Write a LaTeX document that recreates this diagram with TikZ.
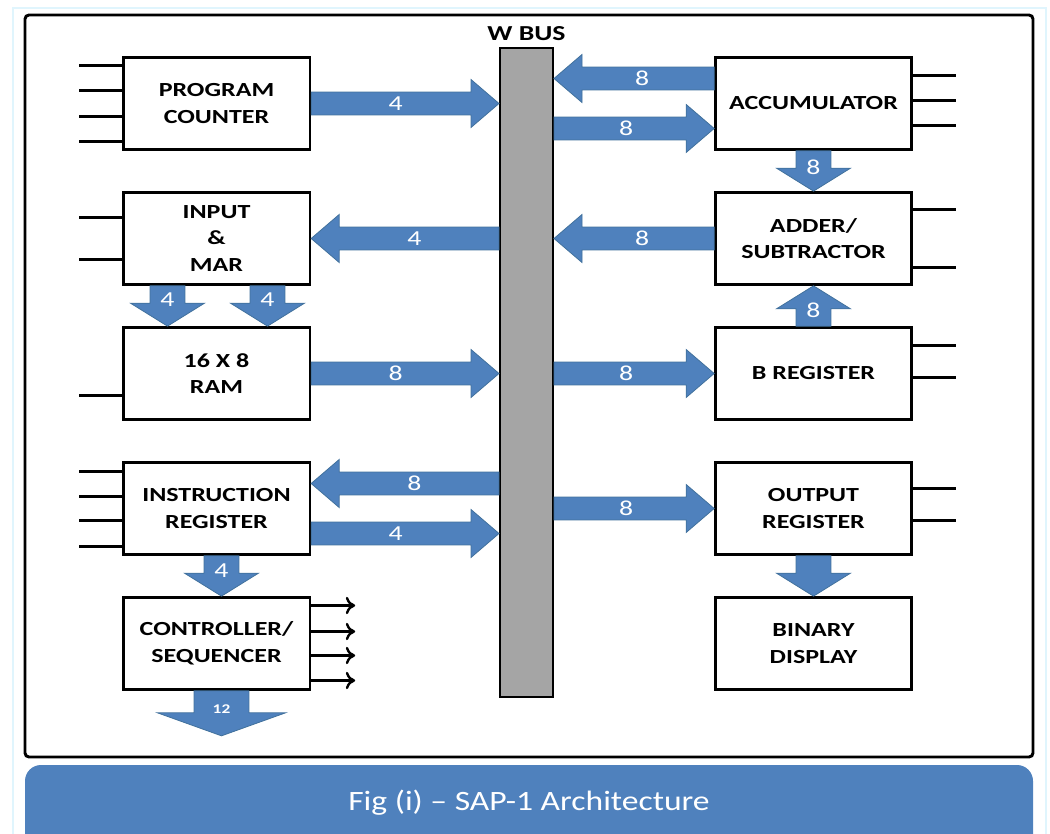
\documentclass[tikz,border=0pt]{standalone}
\usepackage{fontspec}
\newfontfamily\boxfont{Carlito}[FakeStretch=1.3]
\newfontfamily\capfont{Carlito}[FakeStretch=1.2]
\usetikzlibrary{arrows.meta,calc,positioning}

\definecolor{busblue}{HTML}{4F81BD}
\definecolor{busedge}{HTML}{41719C}
\definecolor{busgray}{HTML}{A5A5A5}

\tikzset{
  blk/.style={draw, line width=2pt, minimum width=140pt, minimum height=69pt,
              align=center, font=\boxfont\bfseries\fontsize{15}{20}\selectfont},
  rblk/.style={blk, minimum width=147pt},
  ctl/.style={line width=2.3pt},
  fatarrow/.style={fill=busblue, draw=busedge, line width=0.6pt},
  num/.style={text=white, font=\boxfont\fontsize{16}{16}\selectfont, inner sep=0pt},
}

% fat bus arrow: [label pos]{from}{to}{shaft half}{head half}{head length}{label}
\newcommand{\fat}[7][0.45]{%
  \coordinate (hb) at ($(#3)!#6!(#2)$);
  \filldraw[fatarrow] ($(#2)!#4!90:(#3)$) -- ($(hb)!#4!90:(#3)$)
    -- ($(hb)!#5!90:(#3)$) -- (#3) -- ($(hb)!#5!-90:(#3)$)
    -- ($(hb)!#4!-90:(#3)$) -- ($(#2)!#4!-90:(#3)$) -- cycle;
  \node[num] at ($(#2)!#1!(#3)$) {#7};
}

\begin{document}
\begin{tikzpicture}[x=0.75pt, y=-0.75pt, node distance=30.25pt,
                    >={To[length=7pt,width=13pt]}]
  \useasboundingbox (0,0) rectangle (1050,834);
  \draw[cyan!12, line width=1.5pt] (13,8) rectangle (1046,850);
  \draw[line width=2.2pt, rounded corners=3] (25,15) rectangle (1033,757);

  % W bus
  \node[draw, line width=1.5pt, fill=busgray, minimum width=39.75pt,
        minimum height=486.75pt] (bus) at (526.5,372.5) {};
  \node[font=\boxfont\bfseries\fontsize{16}{18}\selectfont, above=1pt of bus] (wbus) {W BUS};

  % left column
  \node[blk] (pc) at (216.5,103.5) {PROGRAM\\COUNTER};
  \node[blk, below=of pc]   (mar)  {INPUT\\\&\\MAR};
  \node[blk, below=of mar]  (ram)  {16 X 8\\RAM};
  \node[blk, below=of ram]  (ir)   {INSTRUCTION\\REGISTER};
  \node[blk, below=of ir]   (ctrl) {CONTROLLER/\\SEQUENCER};

  % right column
  \node[rblk] (acc) at (813.5,103.5) {ACCUMULATOR};
  \node[rblk, below=of acc]  (add)  {ADDER/\\SUBTRACTOR};
  \node[rblk, below=of add]  (breg) {B REGISTER};
  \node[rblk, below=of breg] (out)  {OUTPUT\\REGISTER};
  \node[rblk, below=of out]  (disp) {BINARY\\DISPLAY};

  % control lines
  \foreach \d in {-38,-13,13,38} \draw[ctl] ($(pc.west)+(0,\d)$) -- ++(-43,0);
  \foreach \d in {-21,21} \draw[ctl] ($(mar.west)+(0,\d)$) -- ++(-43,0);
  \draw[ctl] ($(ram.west)+(0,22)$) -- ++(-43,0);
  \foreach \d in {-37,-12,12,38} \draw[ctl] ($(ir.west)+(0,\d)$) -- ++(-43,0);
  \foreach \d in {-38,-12,12,37} \draw[line width=1.8pt,->] ($(ctrl.east)+(0,\d)$) -- ++(44,0);
  \foreach \d in {-28,-3,22} \draw[ctl] ($(acc.east)+(0,\d)$) -- ++(43,0);
  \foreach \d in {-29,29} \draw[ctl] ($(add.east)+(0,\d)$) -- ++(43,0);
  \foreach \d in {-28,4} \draw[ctl] ($(breg.east)+(0,\d)$) -- ++(43,0);
  \foreach \d in {-20,12} \draw[ctl] ($(out.east)+(0,\d)$) -- ++(43,0);

  % to and from the bus
  \coordinate (ir1) at ($(ir.east)+(0,-25)$);
  \coordinate (ir2) at ($(ir.east)+(0,25)$);
  \coordinate (ac1) at ($(acc.west)+(0,-25)$);
  \coordinate (ac2) at ($(acc.west)+(0,25)$);
  \fat{pc.east}{bus.west |- pc.east}{8.6pt}{18pt}{21pt}{4}
  \fat{bus.west |- mar.east}{mar.east}{8.6pt}{18pt}{21pt}{4}
  \fat{ram.east}{bus.west |- ram.east}{8.6pt}{18pt}{21pt}{8}
  \fat{bus.west |- ir1}{ir1}{8.6pt}{18pt}{21pt}{8}
  \fat{ir2}{bus.west |- ir2}{8.6pt}{18pt}{21pt}{4}
  \fat{ac1}{bus.east |- ac1}{8.6pt}{18pt}{21pt}{8}
  \fat{bus.east |- ac2}{ac2}{8.6pt}{18pt}{21pt}{8}
  \fat{add.west}{bus.east |- add.west}{8.6pt}{18pt}{21pt}{8}
  \fat{bus.east |- breg.west}{breg.west}{8.6pt}{18pt}{21pt}{8}
  \fat{bus.east |- out.west}{out.west}{8.6pt}{18pt}{21pt}{8}

  % between the blocks
  \coordinate (m1) at ($(mar.south)+(-49,0)$);
  \coordinate (m2) at ($(mar.south)+(51,0)$);
  \coordinate (c1) at ($(ir.south)+(5,0)$);
  \coordinate (c2) at ($(ctrl.south)+(5,0)$);
  \coordinate (c3) at ($(c2)+(0,45)$);
  \fat[0.35]{m1}{ram.north -| m1}{13.1pt}{27.75pt}{17.25pt}{4}
  \fat[0.35]{m2}{ram.north -| m2}{13.1pt}{27.75pt}{17.25pt}{4}
  \fat[0.4]{acc.south}{add.north}{13.1pt}{27.75pt}{17.25pt}{8}
  \fat[0.4]{breg.north}{add.south}{13.1pt}{27.75pt}{17.25pt}{8}
  \fat{out.south}{disp.north}{13.1pt}{27.75pt}{17.25pt}{}
  \fat[0.37]{c1}{ctrl.north -| c1}{13.1pt}{27.75pt}{17.25pt}{4}
  \fat[0.4]{c2}{c3}{20.6pt}{48pt}{17.25pt}{\bfseries\fontsize{10}{10}\selectfont 12}

  % caption
  \fill[busblue, rounded corners=12] (25,860) -- (25,765) -- (1033,765) -- (1033,860) -- cycle;
  \node[text=white, font=\capfont\fontsize{21}{24}\selectfont] (cap) at (529,803)
    {Fig (i) – SAP-1 Architecture};
\end{tikzpicture}
\end{document}
